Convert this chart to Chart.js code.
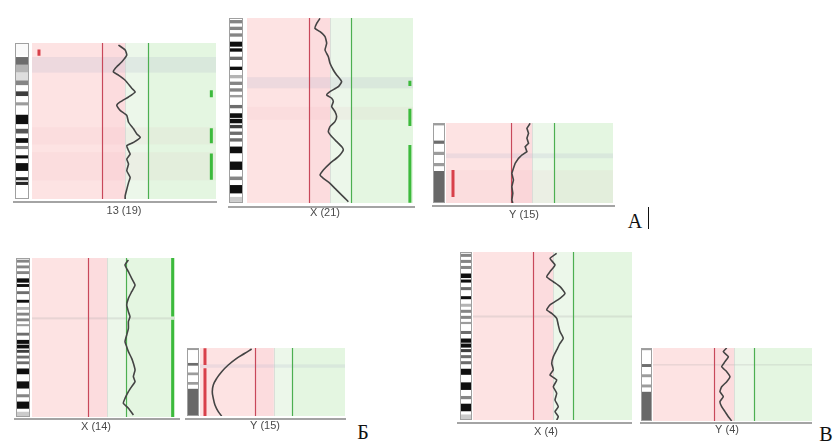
<!DOCTYPE html>
<html>
<head>
<meta charset="utf-8">
<script src="https://cdn.jsdelivr.net/npm/chart.js@4"></script>
<style>
  html, body { margin: 0; padding: 0; background: #fff; }
  #page { position: relative; width: 838px; height: 445px; overflow: hidden; background: #fff; }
  #page canvas { position: absolute; }
  .letter { position: absolute; font-family: "Liberation Serif", "DejaVu Serif", serif; font-size: 20px; color: #111; transform: translate(-50%, -50%); line-height: 1; }
  .cursor { position: absolute; width: 1px; background: #111; }
</style>
</head>
<body>
<div id="page"></div>
<script>
// ---------------- DATA ----------------
const panelLabels = ['13 (19)', 'X (21)', 'Y (15)', 'X (14)', 'Y (15)', 'X (4)', 'Y (4)'];
const figureLetters = ['А', 'Б', 'В'];
const thresholds = [0.8, 1.0, 1.2];

// ideogram bands: [start %, end %, darkness 0..1]
const bands13 = [[0,8,0],[9,14,0.6],[14,19,0.3],[19,24,0.12],[24,27,0.5],[31,34,0.8],[38,40,0.4],[46,52,1],[55,58,0.7],[61,64,1],[66,68,0.5],[72,74,1],[77,82,1],[86,88,0.9],[89,91,0.9]];
const bandsX = [[1.1,2.9,0.5],[4.7,6.5,0.5],[8.3,10.1,0.5],[12.8,15.5,1],[16.4,18.2,1],[20.9,22.7,0.6],[26.3,28.1,1],[30.8,32.6,0.3],[34.4,36.2,0.5],[38,39.8,0.5],[41.6,42.9,0.4],[47,48.8,0.6],[51.5,54,1],[54.5,56.9,1],[57.8,59.6,0.8],[61.4,63.2,0.6],[65,66.8,0.6],[69.5,73.1,1],[77.6,82.1,1],[85.7,87.6,0.5],[90.3,94.8,1],[96.7,99.4,0.2]];
const bandsY = [[0,3,0.4],[22,26,0.6],[36,40,0.4],[50,54,0.4],[60,100,0.62]];

// profiles: fluorescence ratio vs. position along chromosome (%)
const ratio13_19 = [0.942,1.0,1.014,0.972,0.914,0.899,0.942,1.0,1.058,1.086,1.029,0.957,0.928,0.957,1.014,1.029,1.072,1.1,1.13,1.072,1.014,1.029,1.043,1.014,1.029,1.014,1.043,1.029,1.014,1.0,1.0];
const pos13_19   = [1.3,4.5,7.7,12,16.3,18.5,20.6,23.9,29.2,31.4,34.6,37.8,40,43.2,46.5,50.8,55,58.3,60.4,63.7,65.8,69,71.2,74.4,77.6,81.9,86.2,89.5,93.8,98,100];

const ratioX21 = [0.904,0.872,0.855,0.904,0.952,0.968,0.952,0.984,1.0,1.032,1.064,1.112,1.08,1.0,0.968,1.016,1.032,1.016,1.048,1.064,1.048,1.0,0.984,1.016,1.064,1.112,1.128,1.08,1.0,0.936,0.904,0.936,1.0,1.048,1.096,1.145,1.177];
const posX21   = [0.2,2.9,5.6,7.4,10.1,13.7,17.3,20.9,24.5,28.1,30.8,34.4,37.1,39.8,41.6,43.4,45.2,47.9,50.6,53.3,56,58.7,61.4,64.1,66.8,69.5,71.3,74.9,78.6,82.2,84.9,86.7,89.4,92.1,94.8,97.5,99.3];

const ratioY15a = [0.981,0.951,0.966,0.951,0.966,0.935,0.951,0.904,0.873,0.842,0.826,0.811,0.826,0.811,0.82,0.811,0.82];
const posY15a   = [0.4,6.7,12.9,19.2,25.4,29.6,35.8,40,44.2,50.4,56.7,62.9,71.3,79.6,87.9,96.3,100];

const ratioX14 = [1.228,1.192,1.228,1.263,1.299,1.263,1.228,1.21,1.228,1.245,1.228,1.228,1.21,1.192,1.21,1.228,1.263,1.281,1.299,1.281,1.299,1.263,1.228,1.192,1.174,1.228,1.281];
const posX14   = [1.3,4.4,8.6,12.8,17,21.2,25.4,29.6,33.8,36.9,40,44.2,48.4,52.6,55.8,58.9,63.1,66.2,70.4,74.6,77.8,80.9,84.1,88.3,91.4,94.5,98.7];

const ratioY15b = [0.759,0.686,0.597,0.506,0.435,0.381,0.344,0.333,0.344,0.362,0.398,0.435];
const posY15b   = [1.5,7.8,15.2,25,34.8,44.6,54.4,64.2,74,83.8,93.6,100];

const ratioX4 = [1.037,0.97,1.02,0.97,0.937,1.003,1.07,1.12,1.07,0.97,0.937,0.987,1.037,1.053,1.07,1.103,1.07,1.037,1.003,0.987,1.003,0.97,1.037,1.003,1.037,1.02,1.053,1.02,1.053,1.037];
const posX4   = [0.8,3.8,7.7,11.7,14.7,17.7,20.6,24.6,27.6,31.5,34.5,36.5,39.5,43.5,47.4,51.4,54.4,58.3,62.3,66.3,70.2,73.2,76.2,80.2,84.1,88.1,92.1,95,98,100];

const ratioY4 = [0.928,0.894,0.944,0.911,0.878,0.928,0.96,0.928,0.878,0.861,0.894,0.861,0.878,0.911,0.944,0.977];
const posY4   = [0,5,11.9,18.7,25.6,32.4,39.3,46.1,53,59.8,66.7,73.5,80.4,87.2,94.1,100];

// gain / loss segments [start %, end %]
const gains13_19 = [[30.3,34.8],[54.6,64.3],[70.8,87.7]];
const losses13_19 = [[4.1,8.2]];
const gainsX21 = [[33.9,36.8],[49,58.4],[68.6,99.8]];
const lossesY15a = [[58.8,92.5]];
const gainsX14 = [[0,36.8],[38.8,100]];
const lossesY15b = [[0.5,25],[29.9,100]];

// background stripes [start %, end %, kind]
const stripes13_19 = [[9,19,'haze'],[54,65,'tint'],[70,88,'tint']];
const stripesX21 = [[32,38,'haze'],[48,55,'tint']];
const stripesY15a = [[38,44,'haze'],[59,100,'tint']];
const stripesX14 = [[37.3,38.6,'rule']];
const stripesY15b = [[24,29,'haze']];
const stripesX4 = [[37.8,39,'rule']];
const stripesY4 = [[22,24,'rule']];

// ---------------- LAYOUT (page pixels) ----------------
const panels = [
  { label: panelLabels[0], bands: bands13, ratio: ratio13_19, pos: pos13_19, gains: gains13_19, losses: losses13_19, stripes: stripes13_19,
    L: 32, R: 216, T: 43, B: 199, ideo: [15, 29], base: [13, 217, 202], labelAt: [124, 211], xMax: 1.78, gainX: 1.74, lossX: 0.26, tension: 0.15 },
  { label: panelLabels[1], bands: bandsX, ratio: ratioX21, pos: posX21, gains: gainsX21, losses: [], stripes: stripesX21,
    L: 247, R: 413, T: 18, B: 203, ideo: [229, 243], base: [228, 415, 207], labelAt: [325, 213], xMax: 1.8, gainX: 1.77, lossX: 0.26, tension: 0.15 },
  { label: panelLabels[2], bands: bandsY, ratio: ratioY15a, pos: posY15a, gains: [], losses: lossesY15a, stripes: stripesY15a,
    L: 446, R: 613, T: 123, B: 203, ideo: [433, 445], base: [432, 615, 206], labelAt: [524, 215], xMax: 1.75, gainX: 1.7, lossX: 0.265, tension: 0 },
  { label: panelLabels[3], bands: bandsX, ratio: ratioX14, pos: posX14, gains: gainsX14, losses: [], stripes: stripesX14,
    L: 32, R: 175, T: 258, B: 417, ideo: [16, 30], base: [14, 180, 419], labelAt: [96, 427], xMax: 1.725, gainX: 1.70, lossX: 0.26, tension: 0.15 },
  { label: panelLabels[4], bands: bandsY, ratio: ratioY15b, pos: posY15b, gains: [], losses: lossesY15b, stripes: stripesY15b,
    L: 200, R: 345, T: 348, B: 416, ideo: [187, 199], base: [185, 346, 419], labelAt: [265, 426], xMax: 1.77, gainX: 1.7, lossX: 0.254, tension: 0.4 },
  { label: panelLabels[5], bands: bandsX, ratio: ratioX4, pos: posX4, gains: [], losses: [], stripes: stripesX4,
    L: 473, R: 632, T: 252, B: 420, ideo: [460, 472], base: [454, 632, 423], labelAt: [546, 432], xMax: 1.79, gainX: 1.7, lossX: 0.26, tension: 0.15 },
  { label: panelLabels[6], bands: bandsY, ratio: ratioY4, pos: posY4, gains: [], losses: [], stripes: stripesY4,
    L: 653, R: 812, T: 348, B: 421, ideo: [641, 652], base: [640, 812, 423], labelAt: [727, 430], xMax: 1.77, gainX: 1.7, lossX: 0.26, tension: 0.15 }
];
const letterPos = [[635, 221], [363, 432], [826, 434]];

const stripeColors = { haze: 'rgba(165,172,200,0.18)', tint: 'rgba(225,140,155,0.07)', rule: 'rgba(160,160,160,0.22)' };

// ---------------- PLUGIN ----------------
const decorPlugin = {
  id: 'decor',
  beforeDatasetsDraw(chart, args, opts) {
    const p = opts.panel; if (!p) return;
    const { ctx, chartArea: a, scales: { x, y } } = chart;
    const ox = opts.ox;
    const x08 = x.getPixelForValue(thresholds[0]);
    const x10 = x.getPixelForValue(thresholds[1]);
    const x12 = x.getPixelForValue(thresholds[2]);
    ctx.save();
    // zones
    ctx.fillStyle = '#fde3e3'; ctx.fillRect(a.left, a.top, x08 - a.left, a.height);
    ctx.fillStyle = '#fcdcde'; ctx.fillRect(x08, a.top, x10 - x08, a.height);
    ctx.fillStyle = '#ecf7ea'; ctx.fillRect(x10, a.top, x12 - x10, a.height);
    ctx.fillStyle = '#e4f6e1'; ctx.fillRect(x12, a.top, a.right - x12, a.height);
    // stripes
    p.stripes.forEach(([s, e, k]) => {
      const y0 = y.getPixelForValue(s), y1 = y.getPixelForValue(e);
      ctx.fillStyle = stripeColors[k];
      ctx.fillRect(a.left, y0, a.width, y1 - y0);
    });
    // threshold lines
    ctx.lineWidth = 1.2;
    ctx.strokeStyle = '#c8485a';
    ctx.beginPath(); ctx.moveTo(Math.round(x08) + 0.5, a.top); ctx.lineTo(Math.round(x08) + 0.5, a.bottom); ctx.stroke();
    ctx.strokeStyle = '#4caf50';
    ctx.beginPath(); ctx.moveTo(Math.round(x12) + 0.5, a.top); ctx.lineTo(Math.round(x12) + 0.5, a.bottom); ctx.stroke();
    ctx.lineWidth = 1;
    ctx.strokeStyle = 'rgba(200,200,200,0.5)';
    ctx.beginPath(); ctx.moveTo(Math.round(x10) + 0.5, a.top); ctx.lineTo(Math.round(x10) + 0.5, a.bottom); ctx.stroke();
    // ideogram
    const ix0 = p.ideo[0] - ox, ix1 = p.ideo[1] - ox;
    const yt = y.getPixelForValue(0), yb = y.getPixelForValue(100);
    ctx.fillStyle = '#fff'; ctx.fillRect(ix0, yt, ix1 - ix0, yb - yt);
    p.bands.forEach(([s, e, d]) => {
      const v = Math.round(250 - d * 235);
      const y0 = y.getPixelForValue(s), y1 = y.getPixelForValue(e);
      ctx.fillStyle = `rgb(${v},${v},${v})`;
      ctx.fillRect(ix0, y0, ix1 - ix0, y1 - y0);
    });
    ctx.strokeStyle = '#a0a0a0'; ctx.lineWidth = 1;
    ctx.strokeRect(ix0 + 0.5, yt + 0.5, ix1 - ix0 - 1, yb - yt - 1);
    ctx.restore();
  },
  afterDraw(chart, args, opts) {
    const p = opts.panel; if (!p) return;
    const { ctx } = chart;
    const ox = opts.ox, oy = opts.oy;
    ctx.save();
    ctx.strokeStyle = '#a4a4a4'; ctx.lineWidth = 2;
    ctx.beginPath(); ctx.moveTo(p.base[0] - ox, p.base[2] - oy); ctx.lineTo(p.base[1] - ox, p.base[2] - oy); ctx.stroke();
    ctx.fillStyle = '#4a4a4a';
    ctx.font = '11px "Liberation Sans", Arial, sans-serif';
    ctx.textAlign = 'center'; ctx.textBaseline = 'middle';
    ctx.fillText(p.label, p.labelAt[0] - ox, p.labelAt[1] - oy);
    ctx.restore();
  }
};

// ---------------- BUILD ----------------
const page = document.getElementById('page');
panels.forEach((p) => {
  const cl = p.ideo[0] - 3, ct = p.T - 4;
  const cw = (p.R + 5) - cl, ch = (p.labelAt[1] + 9) - ct;
  const canvas = document.createElement('canvas');
  canvas.width = cw; canvas.height = ch;
  canvas.style.left = cl + 'px'; canvas.style.top = ct + 'px';
  canvas.style.width = cw + 'px'; canvas.style.height = ch + 'px';
  page.appendChild(canvas);

  const datasets = [{
    data: p.ratio.map((r, i) => ({ x: r, y: p.pos[i] })),
    showLine: true, borderColor: '#444444', borderWidth: 1.6, pointRadius: 0, tension: p.tension, order: 0
  }];
  p.gains.forEach(([s, e]) => datasets.push({
    data: [{ x: p.gainX, y: s }, { x: p.gainX, y: e }],
    showLine: true, borderColor: '#3cba3c', borderWidth: 3, pointRadius: 0, borderCapStyle: 'butt', order: 1
  }));
  p.losses.forEach(([s, e]) => datasets.push({
    data: [{ x: p.lossX, y: s }, { x: p.lossX, y: e }],
    showLine: true, borderColor: '#d8404a', borderWidth: 3, pointRadius: 0, borderCapStyle: 'butt', order: 1
  }));

  new Chart(canvas, {
    type: 'scatter',
    data: { datasets },
    options: {
      responsive: false, animation: false, events: [], devicePixelRatio: 1,
      layout: { padding: { left: p.L - cl, top: p.T - ct, right: (cl + cw) - p.R, bottom: (ct + ch) - p.B } },
      scales: {
        x: { type: 'linear', min: 0.2, max: p.xMax, display: false },
        y: { type: 'linear', min: 0, max: 100, reverse: true, display: false }
      },
      plugins: { legend: { display: false }, tooltip: { enabled: false }, decor: { panel: p, ox: cl, oy: ct } }
    },
    plugins: [decorPlugin]
  });
});

figureLetters.forEach((t, i) => {
  const d = document.createElement('div');
  d.className = 'letter'; d.textContent = t;
  d.style.left = letterPos[i][0] + 'px'; d.style.top = letterPos[i][1] + 'px';
  page.appendChild(d);
});
const cur = document.createElement('div');
cur.className = 'cursor';
cur.style.left = '648px'; cur.style.top = '207px'; cur.style.height = '22px';
page.appendChild(cur);
</script>
</body>
</html>
